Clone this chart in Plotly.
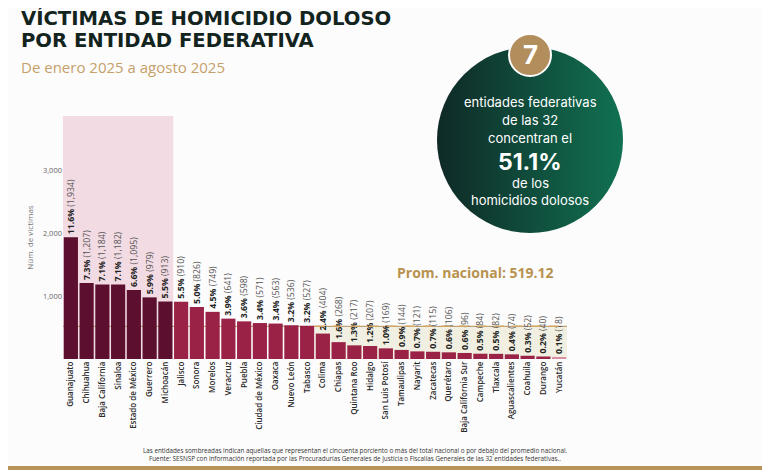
import base64

import plotly.graph_objects as go

# datos
estados = ["Guanajuato", "Chihuahua", "Baja California", "Sinaloa", "Estado de México", "Guerrero",
           "Michoacán", "Jalisco", "Sonora", "Morelos", "Veracruz", "Puebla", "Ciudad de México",
           "Oaxaca", "Nuevo León", "Tabasco", "Colima", "Chiapas", "Quintana Roo", "Hidalgo",
           "San Luis Potosí", "Tamaulipas", "Nayarit", "Zacatecas", "Querétaro", "Baja California Sur",
           "Campeche", "Tlaxcala", "Aguascalientes", "Coahuila", "Durango", "Yucatán"]
victimas = [1934, 1207, 1184, 1182, 1095, 979, 913, 910, 826, 749, 641, 598, 571, 563, 536, 527,
            404, 268, 217, 207, 169, 144, 121, 115, 106, 96, 84, 82, 74, 52, 40, 18]
porcentaje = [11.6, 7.3, 7.1, 7.1, 6.6, 5.9, 5.5, 5.5, 5.0, 4.5, 3.9, 3.6, 3.4, 3.4, 3.2, 3.2,
              2.4, 1.6, 1.3, 1.2, 1.0, 0.9, 0.7, 0.7, 0.6, 0.6, 0.5, 0.5, 0.4, 0.3, 0.2, 0.1]
promedio = 519.12
n_top = 7
y_ticks = [1000, 2000, 3000]

# la página tiene 8px de margen en el body
OFF = 8
W, H = 770 - OFF, 470 - OFF
GOLD = "#b38e5d"


def px(x):
    return (x - OFF) / W


def py(y):
    return 1 - (y - OFF) / H


colores = []
for i in range(len(estados)):
    if i < n_top:
        colores.append("#5c0f2f")
    elif i == len(estados) - 1:
        colores.append("#d98fa6")
    else:
        colores.append("#9b2247")

etiquetas = ["<b>%.1f%%</b> <span style='color:#555'>(%s)</span>" % (p, format(v, ","))
             for p, v in zip(porcentaje, victimas)]

fig = go.Figure()
fig.add_trace(go.Bar(x=estados, y=victimas, marker=dict(color=colores, line=dict(width=0)),
                     text=etiquetas, textposition="outside", textangle=-90, constraintext="none",
                     cliponaxis=False, textfont=dict(size=8.7, color="#222", family="Open Sans"),
                     hoverinfo="x+y", showlegend=False))

# sombreados
fig.add_shape(type="rect", xref="x", yref="y domain", x0=-0.5, x1=n_top - 0.5, y0=0, y1=1,
              fillcolor="#f2dbe3", line=dict(width=0), layer="below")
primero_bajo = next(i for i, v in enumerate(victimas) if v < promedio)
fig.add_shape(type="rect", xref="x", yref="y", x0=primero_bajo - 0.5, x1=len(estados) - 0.5,
              y0=0, y1=promedio, fillcolor="#f1efe1", line=dict(width=0), layer="below")
fig.add_shape(type="line", xref="x", yref="y", x0=-0.5, x1=len(estados) - 0.5,
              y0=promedio, y1=promedio, line=dict(color=GOLD, width=1), layer="below")
fig.add_shape(type="line", xref="x", yref="y", x0=primero_bajo - 0.5, x1=len(estados) - 0.5,
              y0=promedio, y1=promedio, line=dict(color="#d2a860", width=1.6, dash="dash"))

# círculo con degradado
svg = ('<svg xmlns="http://www.w3.org/2000/svg" width="200" height="200" viewBox="0 0 200 200">'
       '<defs><linearGradient id="g" x1="0" y1="0" x2="1" y2="0">'
       '<stop offset="0" stop-color="#0f2926"/><stop offset="1" stop-color="#117152"/>'
       '</linearGradient></defs><circle cx="100" cy="100" r="100" fill="url(#g)"/></svg>')
src = "data:image/svg+xml;base64," + base64.b64encode(svg.encode()).decode()
fig.add_layout_image(source=src, xref="paper", yref="paper", x=px(437), y=py(47),
                     sizex=186 / W, sizey=186 / H, sizing="stretch", xanchor="left", yanchor="top",
                     layer="below")
fig.add_shape(type="circle", xref="paper", yref="paper", x0=px(509), x1=px(551), y0=py(76), y1=py(34),
              fillcolor=GOLD, line=dict(color="white", width=2))

anots = [
    dict(x=px(530), y=py(55), text="<b>7</b>", font=dict(size=26, color="white", family="Inter")),
    dict(x=px(530), y=py(102), text="entidades federativas", font=dict(size=13, color="white", family="Inter")),
    dict(x=px(530), y=py(120), text="de las 32", font=dict(size=13, color="white", family="Inter")),
    dict(x=px(530), y=py(138), text="concentran el", font=dict(size=13, color="white", family="Inter")),
    dict(x=px(530), y=py(162), text="<b>51.1%</b>", font=dict(size=23, color="white", family="Inter")),
    dict(x=px(530), y=py(183), text="de los", font=dict(size=13, color="white", family="Inter")),
    dict(x=px(530), y=py(200), text="homicidios dolosos", font=dict(size=13, color="white", family="Inter")),
    dict(x=px(475), y=py(272), text="<b>Prom. nacional: %.2f</b>" % promedio,
         font=dict(size=14, color="#b8924f", family="Open Sans")),
    dict(x=px(19), y=py(18), text="<b>VÍCTIMAS DE HOMICIDIO DOLOSO</b>", xanchor="left",
         font=dict(size=19.6, color="#13241e", family="DejaVu Sans")),
    dict(x=px(19), y=py(41), text="<b>POR ENTIDAD FEDERATIVA</b>", xanchor="left",
         font=dict(size=19.6, color="#13241e", family="DejaVu Sans")),
    dict(x=px(19), y=py(67), text="De enero 2025 a agosto 2025", xanchor="left",
         font=dict(size=15, color="#c4a06a", family="Open Sans")),
    dict(x=px(355), y=py(450), text="Las entidades sombreadas indican aquellas que representan el cincuenta porciento "
                                     "o más del total nacional o por debajo del promedio nacional.",
         font=dict(size=6.3, color="#333", family="Open Sans")),
    dict(x=px(355), y=py(458), text="Fuente: SESNSP con información reportada por las Procuradurías Generales de "
                                     "Justicia o Fiscalías Generales de las 32 entidades federativas..",
         font=dict(size=6.3, color="#333", family="Open Sans")),
]
for a in anots:
    fig.add_annotation(xref="paper", yref="paper", showarrow=False, yanchor="middle",
                       xanchor=a.pop("xanchor", "center"), **a)

fig.add_shape(type="rect", xref="paper", yref="paper", x0=0, x1=1, y0=0, y1=4 / H,
              fillcolor="#b8935a", line=dict(width=0))

fig.update_layout(
    width=W, height=H, margin=dict(l=0, r=0, t=0, b=0),
    paper_bgcolor="#fdfcfc", plot_bgcolor="rgba(0,0,0,0)",
    bargap=0.1, font=dict(family="Open Sans"),
    xaxis=dict(domain=[px(63), px(567)], tickangle=-90, showgrid=False, showline=False,
               tickfont=dict(size=8, color="#2a2a2a", family="Open Sans", weight=600), ticks="",
               range=[-0.5, len(estados) - 0.5]),
    yaxis=dict(domain=[py(359), py(116)], range=[0, 3860], tickvals=y_ticks, tickformat=",",
               showgrid=False, zeroline=False, showline=False,
               tickfont=dict(size=7.5, color="#666"),
               title=dict(text="Núm. de víctimas", font=dict(size=8, color="#777"), standoff=8)),
)

fig.write_html("out.html")
